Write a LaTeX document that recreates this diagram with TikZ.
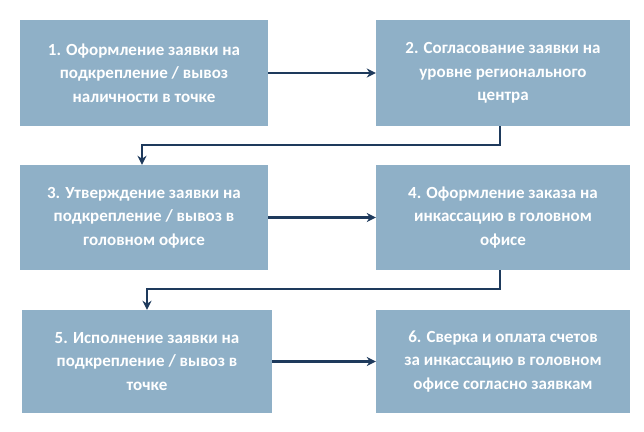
\documentclass[tikz,border=0pt]{standalone}
\usepackage{fontspec}
\setmainfont{Carlito}
\usetikzlibrary{arrows.meta}
\definecolor{boxc}{HTML}{8FB0C7}
\definecolor{arr}{HTML}{1E3A5C}
\begin{document}
\begin{tikzpicture}[x=1pt,y=-1pt,
  box/.style={fill=boxc,draw=none,text=white,font=\bfseries\fontsize{17}{23.5}\selectfont,align=center,inner sep=0pt},
  conn/.style={draw=arr,line width=2.2pt,-{Stealth[length=9pt,width=9pt]}}]
\useasboundingbox[fill=white] (0,0) rectangle (644,431);
\node[box,minimum width=248pt,minimum height=106pt] (b1) at (144,73) {1. Оформление заявки на\\подкрепление / вывоз\\наличности в точке};
\node[box,minimum width=254pt,minimum height=106pt] (b2) at (503,73) {2. Согласование заявки на\\уровне регионального\\центра};
\node[box,minimum width=248pt,minimum height=105pt] (b3) at (144,217.5) {3. Утверждение заявки на\\подкрепление / вывоз в\\головном офисе};
\node[box,minimum width=254pt,minimum height=105pt] (b4) at (503,217.5) {4. Оформление заказа на\\инкассацию в головном\\офисе};
\node[box,minimum width=250pt,minimum height=103pt] (b5) at (147,361.5) {5. Исполнение заявки на\\подкрепление / вывоз в\\точке};
\node[box,minimum width=254pt,minimum height=103pt] (b6) at (503,361.5) {6. Сверка и оплата счетов\\за инкассацию в головном\\офисе согласно заявкам};
\coordinate (e1) at (500,145);
\coordinate (e2) at (142,145);
\coordinate (e3) at (500,289);
\coordinate (e4) at (147,289);
\draw[conn] (b1.east) -- (b2.west);
\draw[conn] (b3.east) -- (b4.west);
\draw[conn] (b5.east) -- (b6.west);
\draw[conn] (b2.south -| e1) -- (e1) -- (e2) -- (b3.north -| e2);
\draw[conn] (b4.south -| e3) -- (e3) -- (e4) -- (b5.north -| e4);
\end{tikzpicture}
\end{document}
